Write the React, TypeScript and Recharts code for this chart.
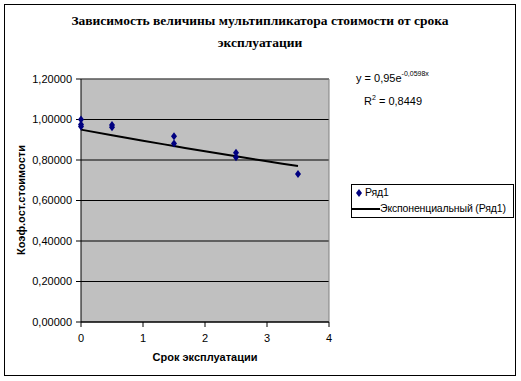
import React from "react";
import {
  ComposedChart,
  Scatter,
  Line,
  XAxis,
  YAxis,
  CartesianGrid,
  ReferenceLine,
  Label,
} from "recharts";

// Observed points (Срок эксплуатации, Коэф.ост.стоимости)
const pointX = [0, 0, 0, 0.5, 0.5, 1.5, 1.5, 2.5, 2.5, 3.5];
const pointY = [1.0, 0.975, 0.965, 0.973, 0.962, 0.917, 0.882, 0.836, 0.814, 0.731];

// Exponential trendline
const trendX = [0, 0.5, 1, 1.5, 2, 2.5, 3, 3.5];
const trendY = [0.95, 0.922, 0.895, 0.869, 0.843, 0.818, 0.794, 0.77];

const xTicks = [0, 1, 2, 3, 4];
const yTicks = [0, 0.2, 0.4, 0.6, 0.8, 1.0, 1.2];

const titleLines = [
  "Зависимость величины мультипликатора стоимости от срока",
  "эксплуатации",
];
const seriesName = "Ряд1";
const trendName = "Экспоненциальный (Ряд1)";

const points = pointX.map((x, i) => ({ x, y: pointY[i] }));
const trend = trendX.map((x, i) => ({ x, t: trendY[i] }));

const SANS = "'Liberation Sans', Arial, sans-serif";
const SERIF = "'Liberation Serif', 'Times New Roman', serif";

const Diamond = (props: any) => {
  const { cx, cy } = props;
  if (cx == null || cy == null) return null;
  return (
    <polygon
      points={`${cx},${cy - 4} ${cx + 3},${cy} ${cx},${cy + 4} ${cx - 3},${cy}`}
      fill="#000080"
    />
  );
};

const LegendBox = () => (
  <div
    style={{
      position: "absolute",
      left: 351,
      top: 184,
      width: 163,
      height: 34,
      border: "1px solid #000",
      background: "#fff",
      boxSizing: "border-box",
      fontFamily: SANS,
      fontSize: 10.5,
      letterSpacing: -0.15,
      color: "#000",
    }}
  >
    <svg width={10} height={10} style={{ position: "absolute", left: 2, top: 3 }}>
      <polygon points="5,1 8,5 5,9 2,5" fill="#000080" />
    </svg>
    <div style={{ position: "absolute", left: 13, top: 1, whiteSpace: "nowrap" }}>{seriesName}</div>
    <div
      style={{
        position: "absolute",
        left: 0,
        top: 23,
        width: 28,
        height: 2,
        background: "#000",
      }}
    />
    <div style={{ position: "absolute", left: 28, top: 17, whiteSpace: "nowrap" }}>{trendName}</div>
  </div>
);

const fmt = (v: number) => v.toFixed(5).replace(".", ",");

export default function App() {
  return (
    <div style={{ position: "absolute", left: 0, top: 0, width: 521, height: 381, background: "#fff" }}>
      <div
        style={{
          position: "absolute",
          left: 4,
          top: 4,
          width: 512,
          height: 372,
          border: "1px solid #000",
          boxSizing: "border-box",
        }}
      />
      <div
        style={{
          position: "absolute",
          left: 4,
          top: 10,
          width: 512,
          textAlign: "center",
          fontFamily: SERIF,
          fontWeight: "bold",
          fontSize: 13.5,
          lineHeight: "22px",
        }}
      >
        {titleLines.map((l) => (
          <div key={l}>{l}</div>
        ))}
      </div>
      <div style={{ position: "absolute", left: 0, top: 0 }}>
        <ComposedChart
          width={521}
          height={381}
          margin={{ top: 79, right: 192, bottom: 0, left: 0 }}
        >
          <CartesianGrid
            fill="#C0C0C0"
            stroke="#000"
            vertical={false}
            horizontal={true}
          />
          <XAxis
            dataKey="x"
            type="number"
            domain={[0, 4]}
            ticks={xTicks}
            allowDuplicatedCategory={false}
            height={59}
            stroke="#000"
            tickSize={5}
            tickMargin={7}
            tick={{ fill: "#000", fontFamily: SANS, fontSize: 11 }}
          >
            <Label
              content={() => (
                <text
                  x={205}
                  y={357}
                  textAnchor="middle"
                  dominantBaseline="central"
                  fontFamily={SANS}
                  fontSize={11}
                  fontWeight="bold"
                  fill="#000"
                >
                  Срок эксплуатации
                </text>
              )}
            />
          </XAxis>
          <YAxis
            type="number"
            domain={[0, 1.2]}
            ticks={yTicks}
            width={81}
            stroke="#000"
            tickSize={5}
            tickMargin={4}
            tickFormatter={fmt}
            tick={{ fill: "#000", fontFamily: SANS, fontSize: 11 }}
          >
            <Label
              content={() => (
                <text
                  x={21}
                  y={200}
                  transform="rotate(-90, 21, 200)"
                  textAnchor="middle"
                  dominantBaseline="central"
                  fontFamily={SANS}
                  fontSize={11}
                  fontWeight="bold"
                  fill="#000"
                >
                  Коэф.ост.стоимости
                </text>
              )}
            />
          </YAxis>
          <ReferenceLine y={1.2} stroke="#808080" />
          <ReferenceLine x={4} stroke="#808080" />
          <Line
            data={trend}
            dataKey="t"
            type="monotone"
            stroke="#000"
            strokeWidth={2}
            dot={false}
            activeDot={false}
            isAnimationActive={false}
            name={trendName}
          />
          <Scatter
            data={points}
            dataKey="y"
            shape={<Diamond />}
            isAnimationActive={false}
            name={seriesName}
          />
        </ComposedChart>
      </div>
      <div
        style={{
          position: "absolute",
          left: 356,
          top: 64,
          fontFamily: SANS,
          fontSize: 11,
          lineHeight: "20px",
          whiteSpace: "nowrap",
        }}
      >
        <div>
          y = 0,95e<sup style={{ fontSize: 7, verticalAlign: "6px" }}>-0,0598x</sup>
        </div>
        <div style={{ marginLeft: 8 }}>
          R<sup style={{ fontSize: 7, verticalAlign: "5px" }}>2</sup> = 0,8449
        </div>
      </div>
      <LegendBox />
    </div>
  );
}
